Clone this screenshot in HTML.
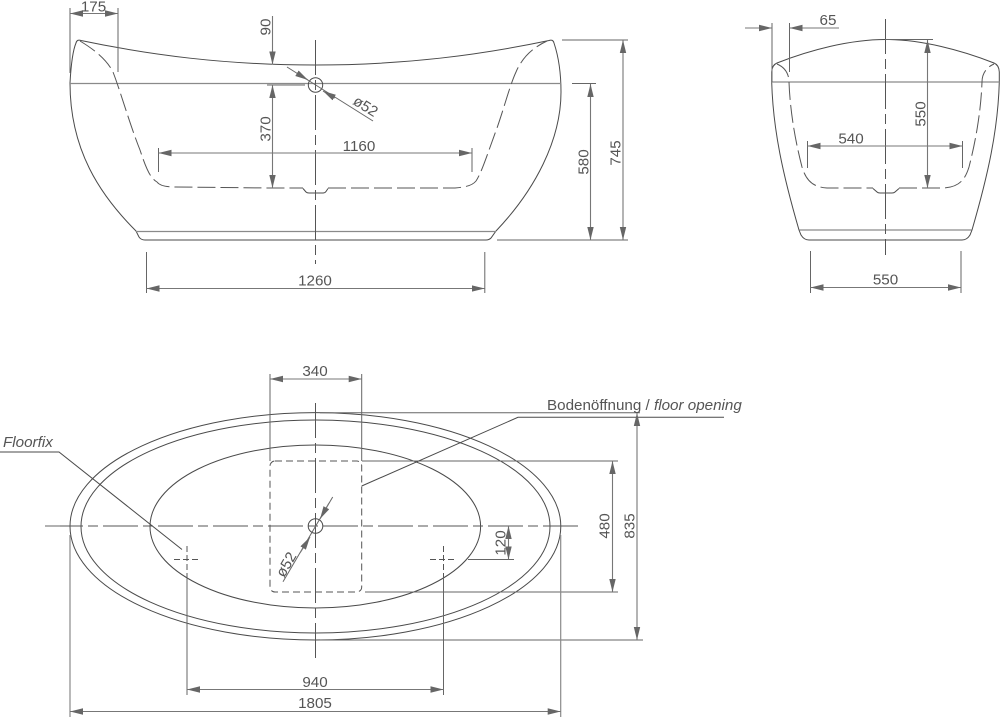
<!DOCTYPE html>
<html>
<head>
<meta charset="utf-8">
<style>
html,body{margin:0;padding:0;background:#fff}
svg{display:block}
text{font-family:"Liberation Sans",sans-serif;font-size:15.2px;fill:#555;text-anchor:middle}
.o{fill:none;stroke:#4a4a4a;stroke-width:1}
.d{fill:none;stroke:#555;stroke-width:1;stroke-dasharray:18 5}
.e{fill:none;stroke:#666;stroke-width:1}
.g{fill:none;stroke:#8a8a8a;stroke-width:1.2}
.c{fill:none;stroke:#555;stroke-width:1;stroke-dasharray:35 5 10 5}
.a{fill:none;stroke:#777;stroke-width:1.1;marker-start:url(#ar);marker-end:url(#ar)}
.b{fill:none;stroke:#777;stroke-width:1.1;marker-end:url(#ar)}
</style>
</head>
<body>
<svg width="1000" height="717" viewBox="0 0 1000 717" xmlns="http://www.w3.org/2000/svg">
<defs>
<marker id="ar" markerUnits="userSpaceOnUse" markerWidth="14" markerHeight="8" refX="13" refY="4" orient="auto-start-reverse">
<path d="M0,0.8 L13,4 L0,7.2 Z" fill="#666"/>
</marker>
</defs>

<!-- SIDE VIEW -->
<path class="o" d="M70,83 C71,65 73,50 76,43 Q77,39 81,40.5 C150,55 225,65 315,65 C405,65 480,55 549,40.5 Q553,39 554,43 C558,55 561,70 561,92 C561,140 535,190 496,231 L491,238 Q489,240 486,240 L145,240 Q141,240 139,237 L136,231 C100,195 70,150 70,83 Z"/>
<path class="g" d="M70,83.5 H561 M136,231.5 H496"/>
<path class="d" d="M80,41 C95,50 107,60 113,72 C120,90 130,125 140,150 C146,168 150,178 157,182 C160,186 167,187 175,187 L270,188 H303 M328,188 H455 C465,187 472,186 476,181 C482,172 488,152 497,128 C505,105 510,85 516,72 C522,58 532,48 547,41"/>
<path class="o" d="M303,188.500 L306,192 Q307,193 309,193 H323 Q325,193 326,191.500 L328,188.500"/>
<path class="c" d="M315.500,40 V264"/>
<circle class="o" cx="315.500" cy="85" r="7.200"/>
<path class="e" d="M70,8 V73 M118,8 V72 M267,85 H305 M158.500,148 V172 M472,148 V172 M146.500,252 V293 M484.800,252 V293 M562,40 H628 M497,240 H628 M572,83.500 H596"/>
<path class="a" d="M70,13.500 H118"/>
<path class="b" d="M272.500,16 V64.500"/>
<path class="a" d="M272.500,85 V188"/>
<path class="e" d="M287,67 L373,121"/>
<path class="b" d="M297,73.300 L308,80"/>
<path class="b" d="M335,98 L323,91"/>
<path class="a" d="M158.500,153 H472"/>
<path class="a" d="M146.500,288.500 H484.800"/>
<path class="a" d="M623,40 V240"/>
<path class="a" d="M590.500,84 V240"/>
<text x="93.500" y="11.500">175</text>
<text transform="translate(270.500,27) rotate(-90)">90</text>
<text transform="translate(270.500,129) rotate(-90)">370</text>
<text x="359" y="151">1160</text>
<text x="315" y="285.500">1260</text>
<text transform="translate(588.500,162) rotate(-90)">580</text>
<text transform="translate(620.500,153) rotate(-90)">745</text>
<text transform="translate(363,110.500) rotate(32)" style="font-size:15px">ø52</text>

<!-- END VIEW -->
<path class="o" d="M771.700,82 V72 Q772,65 777,63 C810,50 850,39.500 885.500,39.500 C921,39.500 961,50 994,63 Q999,65 999.300,72 V82 C998,130 988,175 972,230 L970,235 Q967,240 962,240 H809 Q804,240 801,235 L799,230 C783,175 773,130 771.700,82 Z"/>
<path class="g" d="M771.700,82 H999.300 M799.500,230 H971.500"/>
<path class="d" d="M777,64 C784,67 789,73 789,82 C790,110 795,140 802,167 C806,180 812,187 827,188 H873 M899,188 H944 C959,187 965,180 969,167 C976,140 981,110 982,82 C982,73 987,67 994,64"/>
<path class="o" d="M873,188.500 L877,192 Q878,193 880,193 H892 Q894,193 895,192 L899,188.500"/>
<path class="c" d="M885.500,19 V255"/>
<path class="e" d="M772,23 V82 M789.500,23 V72 M885,39.500 H933 M807.500,141 V168 M962.500,141 V168 M810.500,251 V293 M961,251 V293"/>
<path class="b" d="M745,28 H772"/>
<path class="b" d="M839,28 H789.500"/>
<path class="a" d="M927.500,40 V188"/>
<path class="a" d="M807.500,146 H962.500"/>
<path class="a" d="M810.500,287.500 H961"/>
<text x="828" y="25">65</text>
<text x="851" y="143.500">540</text>
<text x="885.500" y="284.500">550</text>
<text transform="translate(925.500,114) rotate(-90)">550</text>

<!-- PLAN VIEW -->
<ellipse class="o" cx="315.400" cy="526.300" rx="245.400" ry="113.700"/>
<ellipse class="o" cx="315.500" cy="526.500" rx="234.500" ry="106.500"/>
<ellipse class="o" cx="315.300" cy="526.500" rx="165.300" ry="81.500"/>
<path class="c" style="stroke-dashoffset:-3" d="M45,526 H583"/>
<path class="e" d="M45,526 H60"/>
<path class="c" d="M315.500,403 V662"/>
<rect x="270" y="461" width="91.700" height="131" rx="5" ry="5" fill="none" stroke="#555" stroke-width="1" stroke-dasharray="7 4"/>
<circle class="o" cx="315.500" cy="526" r="7.300"/>
<path class="e" d="M270,374 V461 M361.700,374 V461 M320,412.700 H640 M320,640 H643 M362,461 H618 M365,592 H618 M468,559.500 H514"/>
<path class="o" d="M361.700,486 L518,417.300 H724"/>
<path class="o" d="M0,452 H59 L182,549.500"/>
<path class="d" style="stroke-dasharray:6 3" d="M174,559.500 H200 M187,546 V578"/>
<path class="d" style="stroke-dasharray:6 3" d="M430,559.500 H456 M443.500,546 V578"/>
<path class="e" d="M187,578 V695 M443.500,578 V695"/>
<path class="g" d="M70,535 V717 M560.700,535 V717"/>
<path class="a" d="M270,379 H361.700"/>
<path class="a" d="M637,413 V640"/>
<path class="a" d="M612.500,461 V592"/>
<path class="a" d="M508.500,526 V559.500"/>
<path class="a" d="M187,689.500 H443.500"/>
<path class="a" d="M70,711.500 H560.700"/>
<path class="e" d="M283,581.700 L332.700,497"/>
<path class="b" d="M300,553 L310,537"/>
<path class="b" d="M329,503 L320,519"/>
<text x="315" y="376">340</text>
<text x="315" y="687">940</text>
<text x="315" y="708">1805</text>
<text transform="translate(634.500,526) rotate(-90)">835</text>
<text transform="translate(609.500,526) rotate(-90)">480</text>
<text transform="translate(505.500,543) rotate(-90)">120</text>
<text transform="translate(290.500,567) rotate(-60)" style="font-size:15px">ø52</text>
<text x="3" y="447" font-style="italic" style="text-anchor:start">Floorfix</text>
<text x="547" y="410" style="text-anchor:start">Bodenöffnung / <tspan font-style="italic">floor opening</tspan></text>
</svg>
</body>
</html>
